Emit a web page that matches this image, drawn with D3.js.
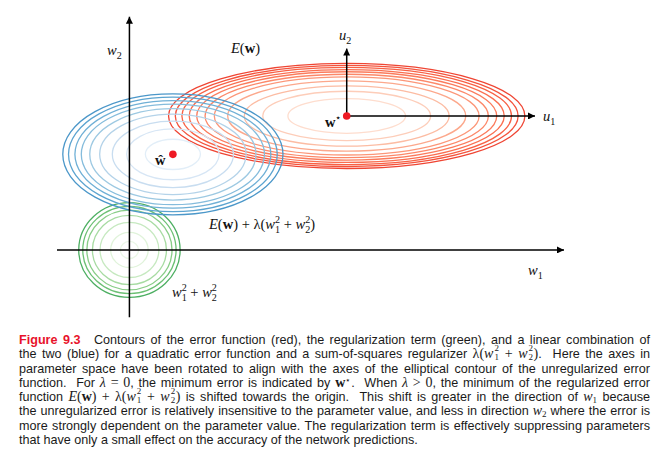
<!DOCTYPE html>
<html>
<head>
<meta charset="utf-8">
<script src="https://cdn.jsdelivr.net/npm/d3@7"></script>
<style>
  body { margin: 0; background: #fff; width: 658px; height: 454px; overflow: hidden; position: relative; }
  svg { position: absolute; left: 0; top: 0; }
  #caption { position: absolute; left: 19px; top: 333px; width: 631px;
    font-family: "Liberation Sans", Arial, sans-serif; font-size: 12.6px; line-height: 14.3px; color: #1a1a1a; }
  #caption .ln { text-align: justify; text-align-last: justify; height: 14.3px; }
  #caption .ln.last { text-align-last: left; }
  .fig { color: #e8132b; font-weight: bold; margin-right: 8px; }
  .m { font-family: "Liberation Serif", serif; font-style: italic; font-size: 14px; }
  .r { font-family: "Liberation Serif", serif; font-size: 14px; }
  .b { font-family: "Liberation Serif", serif; font-weight: bold; font-size: 14px; }
  .ss { display: inline-block; position: relative; width: 6px; height: 10px; font-family: "Liberation Serif", serif;
    font-size: 9px; line-height: 9px; }
  .ss span { position: absolute; left: 1px; }
  .ss span:first-child { top: -4px; }
  .ss span:last-child { top: 5px; }
  .sb { font-family: "Liberation Serif", serif; font-size: 9px; vertical-align: -0.25em; line-height: 0; }
  .sp { font-family: "Liberation Serif", serif; font-size: 9px; vertical-align: 0.5em; line-height: 0; }
</style>
</head>
<body>
<div id="chart"></div>
<div id="caption"></div>
<script>
// minima (data units, origin at w = 0)
const wStar = [3.0, 1.85];
const wHat = [0.6, 1.32];
const regCenter = [0, 0];

// outer semi-axes of each contour family
const redRadii = [2.46, 0.725];
const blueRadii = [1.52, 0.835];
const greenRadii = [0.70, 0.655];

// contour rings as fraction of the outer semi-axes
const redLevels = [1, 0.962, 0.925, 0.884, 0.842, 0.795, 0.743, 0.668, 0.575, 0.471, 0.33];
const blueLevels = [1, 0.948, 0.89, 0.832, 0.755, 0.665, 0.55, 0.42, 0.25];
const greenLevels = [1, 0.92, 0.84, 0.73, 0.58, 0.37, 0.18];

// axes
const w1Extent = [-1, 6];
const w2Extent = [-0.93, 3.22];
const u1Length = 2.6;
const u2Length = 0.93;

const W1SQ = `<span class="m">w</span><span class="ss"><span>2</span><span>1</span></span>`;
const W2SQ = `<span class="m">w</span><span class="ss"><span>2</span><span>2</span></span>`;

const captionLines = [
  `<span class="fig">Figure 9.3</span> Contours of the error function (red), the regularization term (green), and a linear combination of`,
  `the two (blue) for a quadratic error function and a sum-of-squares regularizer <span class="r">λ(</span>${W1SQ} <span class="r">+</span> ${W2SQ}<span class="r">)</span>.&nbsp; Here the axes in`,
  `parameter space have been rotated to align with the axes of the elliptical contour of the unregularized error`,
  `function.&nbsp; For <span class="m">λ</span> <span class="r">= 0</span>, the minimum error is indicated by <span class="b">w</span><span class="sp">⋆</span>.&nbsp; When <span class="m">λ</span> <span class="r">&gt; 0</span>, the minimum of the regularized error`,
  `function <span class="m">E</span><span class="r">(</span><span class="b">w</span><span class="r">) + λ(</span>${W1SQ} <span class="r">+</span> ${W2SQ}<span class="r">)</span> is shifted towards the origin.&nbsp; This shift is greater in the direction of <span class="m">w</span><span class="sb">1</span> because`,
  `the unregularized error is relatively insensitive to the parameter value, and less in direction <span class="m">w</span><span class="sb">2</span> where the error is`,
  `more strongly dependent on the parameter value. The regularization term is effectively suppressing parameters`,
  `that have only a small effect on the accuracy of the network predictions.`
];

const W = 658;
const svg = d3.select("#chart").append("svg").attr("width", W).attr("height", 320);

const x = d3.scaleLinear().domain([-1, 6]).range([57, 564]);
const y = d3.scaleLinear().domain([-1, 3.2]).range([322.4, 18.2]);
const sx = v => x(v) - x(0);
const sy = v => y(0) - y(v);

svg.append("defs").append("marker")
  .attr("id", "arrow")
  .attr("viewBox", "0 0 10 10")
  .attr("refX", 10).attr("refY", 5)
  .attr("markerWidth", 8).attr("markerHeight", 7)
  .attr("markerUnits", "userSpaceOnUse")
  .attr("orient", "auto")
  .append("path").attr("d", "M0,0L10,5L0,10Z").attr("fill", "#000");

function rings(levels, center, radii, interp) {
  svg.append("g")
    .selectAll("ellipse")
    .data(levels)
    .join("ellipse")
    .attr("cx", x(center[0]))
    .attr("cy", y(center[1]))
    .attr("rx", f => sx(radii[0] * f))
    .attr("ry", f => sy(radii[1] * f))
    .attr("fill", "none")
    .attr("stroke", f => interp(0.07 + 0.53 * f * f))
    .attr("stroke-width", 1.3);
}

rings(redLevels, wStar, redRadii, d3.interpolateReds);
rings(greenLevels, regCenter, greenRadii, d3.interpolateGreens);
rings(blueLevels, wHat, blueRadii, d3.interpolateBlues);

// w axes
svg.append("line")
  .attr("x1", x(w1Extent[0])).attr("x2", x(w1Extent[1]))
  .attr("y1", y(0)).attr("y2", y(0))
  .attr("stroke", "#000").attr("stroke-width", 1.5).attr("marker-end", "url(#arrow)");
svg.append("line")
  .attr("x1", x(0)).attr("x2", x(0))
  .attr("y1", y(w2Extent[0])).attr("y2", y(w2Extent[1]))
  .attr("stroke", "#000").attr("stroke-width", 1.5).attr("marker-end", "url(#arrow)");

// u axes from w*
svg.append("line")
  .attr("x1", x(wStar[0])).attr("x2", x(wStar[0] + u1Length))
  .attr("y1", y(wStar[1])).attr("y2", y(wStar[1]))
  .attr("stroke", "#000").attr("stroke-width", 1.5).attr("marker-end", "url(#arrow)");
svg.append("line")
  .attr("x1", x(wStar[0])).attr("x2", x(wStar[0]))
  .attr("y1", y(wStar[1])).attr("y2", y(wStar[1] + u2Length))
  .attr("stroke", "#000").attr("stroke-width", 1.5).attr("marker-end", "url(#arrow)");

svg.selectAll("circle.min")
  .data([wStar, wHat])
  .join("circle")
  .attr("class", "min")
  .attr("cx", d => x(d[0]))
  .attr("cy", d => y(d[1]))
  .attr("r", 3.8)
  .attr("fill", "#ee1a24");

// math labels: parts are {t, i, b, sub, sup, ss:[sup, sub]}
function mathText(px, py, parts, size) {
  const t = svg.append("text").attr("x", px).attr("y", py)
    .style("font-family", "'Liberation Serif', serif")
    .style("font-size", size + "px")
    .attr("fill", "#111");
  let shift = 0;
  const small = size * 0.7;
  const move = (ts, target) => { ts.attr("dy", target - shift); shift = target; };
  parts.forEach(p => {
    if (p.ss) {
      const a = t.append("tspan").text(p.ss[0]).style("font-size", small + "px");
      move(a, -size * 0.38);
      const wdt = a.node().getComputedTextLength();
      const b = t.append("tspan").text(p.ss[1]).style("font-size", small + "px").attr("dx", -wdt);
      move(b, size * 0.25);
      return;
    }
    const ts = t.append("tspan").text(p.t);
    if (p.i) ts.style("font-style", "italic");
    if (p.b) ts.style("font-weight", "bold");
    if (p.sub) { ts.style("font-size", small + "px"); move(ts, size * 0.25); }
    else if (p.sup) { ts.style("font-size", small + "px"); move(ts, -size * 0.38); }
    else move(ts, 0);
  });
}

const FS = 14.5;
mathText(107, 55, [{t: "w", i: 1}, {t: "2", sub: 1}], FS);
mathText(231, 53, [{t: "E", i: 1}, {t: "("}, {t: "w", b: 1}, {t: ")"}], FS);
mathText(339, 40, [{t: "u", i: 1}, {t: "2", sub: 1}], FS);
mathText(543, 121, [{t: "u", i: 1}, {t: "1", sub: 1}], FS);
mathText(325, 127, [{t: "w", b: 1}, {t: "⋆", sup: 1}], FS);
mathText(155, 165, [{t: "ŵ", b: 1}], FS);
mathText(209, 229, [{t: "E", i: 1}, {t: "("}, {t: "w", b: 1}, {t: ") + λ("}, {t: "w", i: 1}, {ss: ["2", "1"]},
  {t: " + "}, {t: "w", i: 1}, {ss: ["2", "2"]}, {t: ")"}], FS);
mathText(172, 297, [{t: "w", i: 1}, {ss: ["2", "1"]}, {t: " + "}, {t: "w", i: 1}, {ss: ["2", "2"]}], FS);
mathText(528, 275, [{t: "w", i: 1}, {t: "1", sub: 1}], FS);

d3.select("#caption").selectAll("div")
  .data(captionLines)
  .join("div")
  .attr("class", (d, i) => i === captionLines.length - 1 ? "ln last" : "ln")
  .html(d => d);
</script>
</body>
</html>
